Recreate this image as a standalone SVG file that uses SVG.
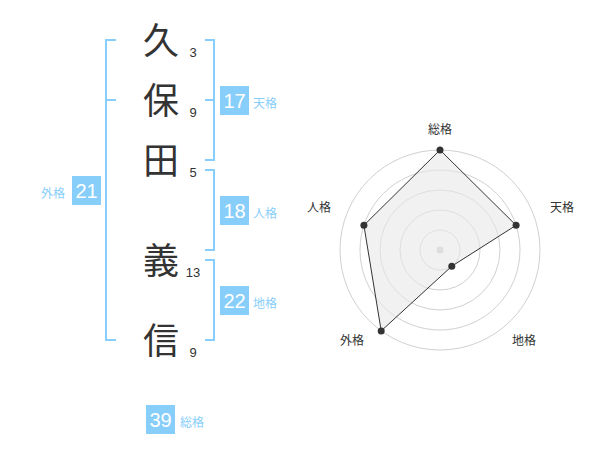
<svg xmlns="http://www.w3.org/2000/svg" width="600" height="470" viewBox="0 0 600 470">
<style>
.kanji{font-family:"Noto Sans CJK JP","Noto Sans CJK SC",sans-serif;font-size:36px;fill:#333;text-anchor:middle}
.stroke{font-family:"Liberation Sans",Arial,sans-serif;font-size:13px;fill:#333;text-anchor:middle}
.br{fill:none;stroke:#87cefa;stroke-width:2}
.box{fill:#87cefa}
.num{font-family:"Liberation Sans",Arial,sans-serif;font-size:20px;fill:#fff;text-anchor:middle}
.lab{font-family:"Noto Sans CJK JP","Noto Sans CJK SC",sans-serif;font-size:12px;fill:#87cefa}
.ring{fill:none;stroke:#d0d0d0;stroke-width:1}
.rl{font-family:"Noto Sans CJK JP","Noto Sans CJK SC",sans-serif;font-size:12px;fill:#333;text-anchor:middle}
.dot{fill:#333}
</style>
<rect width="600" height="470" fill="#fff"/>
<g id="name">
<text class="kanji" x="161" y="53.5">久</text>
<text class="kanji" x="161" y="113.5">保</text>
<text class="kanji" x="161" y="173.5">田</text>
<text class="kanji" x="161" y="273.5">義</text>
<text class="kanji" x="161" y="353.5">信</text>
<text class="stroke" x="193" y="57">3</text>
<text class="stroke" x="193" y="117">9</text>
<text class="stroke" x="193" y="177">5</text>
<text class="stroke" x="193" y="277">13</text>
<text class="stroke" x="193" y="357">9</text>
</g>
<g id="connectors">
<path class="br" d="M116,40 H106 V340 H116 M106,100 H116"/>
<path class="br" d="M205,40 H214 V160 H205 M205,100 H214"/>
<path class="br" d="M205,170 H214 V250 H205"/>
<path class="br" d="M205,260 H214 V340 H205"/>
</g>
<g id="tenkaku">
<rect class="box" x="220" y="86" width="29" height="29"/>
<text class="num" x="234.5" y="107.5">17</text>
<text class="lab" x="253" y="108">天格</text>
</g>
<g id="jinkaku">
<rect class="box" x="220" y="196" width="29" height="29"/>
<text class="num" x="234.5" y="217.5">18</text>
<text class="lab" x="253" y="218">人格</text>
</g>
<g id="chikaku">
<rect class="box" x="220" y="286" width="29" height="29"/>
<text class="num" x="234.5" y="307.5">22</text>
<text class="lab" x="253" y="308">地格</text>
</g>
<g id="gaikaku">
<rect class="box" x="72" y="176" width="29" height="29"/>
<text class="num" x="86.5" y="197.5">21</text>
<text class="lab" x="41" y="198">外格</text>
</g>
<g id="soukaku">
<rect class="box" x="146" y="405" width="29" height="29"/>
<text class="num" x="160.5" y="426.5">39</text>
<text class="lab" x="180" y="427">総格</text>
</g>
<g id="radar">
<circle class="ring" cx="440" cy="250" r="20"/>
<circle class="ring" cx="440" cy="250" r="40"/>
<circle class="ring" cx="440" cy="250" r="60"/>
<circle class="ring" cx="440" cy="250" r="80"/>
<circle class="ring" cx="440" cy="250" r="100"/>
<circle cx="440" cy="250" r="3.5" fill="#ccc"/>
<polygon points="440,150 516.1,225.3 451.8,266.2 381.2,330.9 363.9,225.3" fill="#e8e8e8" fill-opacity="0.6" stroke="#333" stroke-width="1"/>
<circle class="dot" cx="440" cy="150" r="3.5"/>
<circle class="dot" cx="516.1" cy="225.3" r="3.5"/>
<circle class="dot" cx="451.8" cy="266.2" r="3.5"/>
<circle class="dot" cx="381.2" cy="330.9" r="3.5"/>
<circle class="dot" cx="363.9" cy="225.3" r="3.5"/>
<text class="rl" x="440" y="134">総格</text>
<text class="rl" x="562" y="212">天格</text>
<text class="rl" x="524" y="345">地格</text>
<text class="rl" x="352" y="345">外格</text>
<text class="rl" x="319" y="212">人格</text>
</g>
</svg>
